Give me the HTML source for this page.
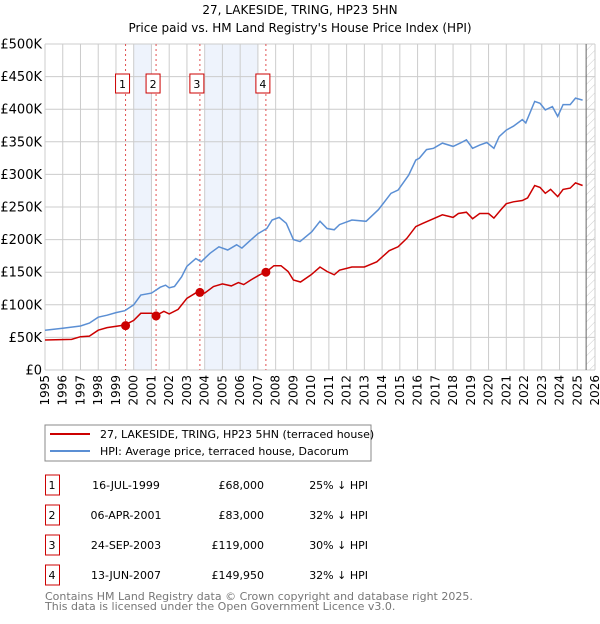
<!DOCTYPE html>
<html><head><meta charset="utf-8"><style>
body{margin:0;background:#fff;width:600px;height:620px;overflow:hidden;font-family:"DejaVu Sans","Liberation Sans",sans-serif}
svg text{font-family:"DejaVu Sans","Liberation Sans",sans-serif}
</style></head><body>
<svg id="chart" width="600" height="620" xmlns="http://www.w3.org/2000/svg">
<defs><pattern id="hatch" width="6" height="6" patternUnits="userSpaceOnUse" patternTransform="rotate(45)"><line x1="0" y1="0" x2="0" y2="6" stroke="#ccc" stroke-width="1"/></pattern></defs>
<text x="300" y="14" text-anchor="middle" font-size="12">27, LAKESIDE, TRING, HP23 5HN</text>
<text x="300" y="32" text-anchor="middle" font-size="12">Price paid vs. HM Land Registry's House Price Index (HPI)</text>
<g id="plot"></g>
<rect x="45" y="425" width="326" height="36" fill="#fff" stroke="#888"/>
<line x1="50" y1="434" x2="90" y2="434" stroke="#cc0000" stroke-width="2"/>
<text x="100" y="438" font-size="11">27, LAKESIDE, TRING, HP23 5HN (terraced house)</text>
<line x1="50" y1="451" x2="90" y2="451" stroke="#5b8fd4" stroke-width="2"/>
<text x="100" y="455" font-size="11">HPI: Average price, terraced house, Dacorum</text>
<g id="table" font-size="11"></g>
<text x="45" y="600" font-size="11" fill="#777">Contains HM Land Registry data © Crown copyright and database right 2025.</text>
<text x="45" y="610" font-size="11" fill="#777">This data is licensed under the Open Government Licence v3.0.</text>
</svg>
<script>
const hpiYears=[1995,1996,1997,1997.5,1998,1998.5,1999,1999.5,2000,2000.4,2001,2001.5,2001.8,2002,2002.3,2002.7,2003,2003.5,2003.8,2004.3,2004.8,2005.3,2005.8,2006.1,2006.5,2007,2007.5,2007.8,2008.2,2008.6,2009,2009.37,2010.03,2010.5,2010.9,2011.3,2011.6,2012.3,2013.1,2013.8,2014.5,2014.9,2015.5,2015.9,2016.1,2016.5,2016.9,2017.4,2018,2018.4,2018.75,2019.1,2019.5,2019.9,2020.3,2020.6,2021,2021.4,2021.9,2022.1,2022.6,2022.9,2023.2,2023.6,2023.9,2024.2,2024.6,2024.9,2025.3];
const hpiValues=[61,64,67.5,72,81,84,88,91,100,115,118,127,130,126,128,143,159,171,166,179,189,184,192,187,197,209,217,230,234,225,200,197,212,228,217,215,223,230,228,246,271,276,299,322,325,338,340,348,343,348,353,340,345,349,340,358,368,374,384,379,412,409,399,404,389,407,407,417,414];
const ppYears=[1995,1996.5,1997,1997.5,1998,1998.5,1999.5,2000,2000.4,2001,2001.3,2001.7,2002,2002.5,2003,2003.6,2004,2004.5,2005,2005.5,2005.9,2006.2,2006.6,2007.1,2007.5,2007.9,2008.3,2008.7,2009,2009.4,2010,2010.5,2010.9,2011.3,2011.6,2012.3,2013,2013.7,2014.4,2014.9,2015.4,2015.9,2016.3,2016.8,2017.4,2018,2018.3,2018.75,2019.1,2019.5,2020,2020.3,2020.7,2021,2021.4,2021.9,2022.2,2022.6,2022.9,2023.2,2023.5,2023.9,2024.2,2024.6,2024.9,2025.3];
const ppValues=[46,47,51,52,61,65,69,76,87,87,84,90,86,93,110,120,118,128,132,129,134,131,138,146,151,160,160,151,138,135,146,158,151,146,153,158,158,166,183,189,202,220,225,231,238,234,240,242,232,240,240,233,246,255,258,260,264,283,280,271,277,266,277,279,287,283];
const saleYears=[1999.54,2001.26,2003.73,2007.45];
const salePrices=[68,83,119,149.95];
const saleLabels=["1","2","3","4"];
const saleDates=["16-JUL-1999","06-APR-2001","24-SEP-2003","13-JUN-2007"];
const salePriceText=["£68,000","£83,000","£119,000","£149,950"];
const saleHpiText=["25% ↓ HPI","32% ↓ HPI","30% ↓ HPI","32% ↓ HPI"];
const shadeRanges=[[2000,2001],[2004,2007]];
const yTicks=[0,50,100,150,200,250,300,350,400,450,500];
const yTickLabels=["£0","£50K","£100K","£150K","£200K","£250K","£300K","£350K","£400K","£450K","£500K"];
const xTicks=[1995,1996,1997,1998,1999,2000,2001,2002,2003,2004,2005,2006,2007,2008,2009,2010,2011,2012,2013,2014,2015,2016,2017,2018,2019,2020,2021,2022,2023,2024,2025,2026];
const forecastStart=2025.5;

const NS="http://www.w3.org/2000/svg";
const X0=45,X1=595,Y0=370,Y1=44;
const xs=y=>X0+(y-1995)/(2026-1995)*(X1-X0);
const ys=v=>Y0-v/500*(Y0-Y1);
const plot=document.getElementById('plot');
function mk(tag,attrs,parent){const e=document.createElementNS(NS,tag);for(const k in attrs)e.setAttribute(k,attrs[k]);(parent||plot).appendChild(e);return e;}
shadeRanges.forEach(r=>{const e=mk('rect',{x:xs(r[0]),y:Y1,width:xs(r[1])-xs(r[0]),height:Y0-Y1,fill:'#eef3fc'});

});
const hr=mk('rect',{x:xs(forecastStart),y:Y1,width:X1-xs(forecastStart),height:Y0-Y1,fill:'url(#hatch)'});


yTicks.forEach((t,i)=>{const l=mk('line',{x1:X0,x2:X1,y1:ys(t),y2:ys(t),stroke:'#ccc'});


const tx=mk('text',{x:X0-3,y:ys(t)+4.5,'text-anchor':'end','font-size':'13'});tx.textContent=yTickLabels[i];

});
xTicks.forEach(t=>{const l=mk('line',{x1:xs(t),x2:xs(t),y1:Y1,y2:Y0,stroke:'#ccc'});


const tx=mk('text',{x:0,y:0,'text-anchor':'end','font-size':'12',transform:`translate(${xs(t)+4},${Y0+5}) rotate(-90)`});tx.textContent=t;

});
const fl=mk('line',{x1:xs(forecastStart),x2:xs(forecastStart),y1:Y1,y2:Y0,stroke:'#666'});


saleYears.forEach((y,i)=>{const l=mk('line',{x1:xs(y),x2:xs(y),y1:Y1,y2:Y0,stroke:'#e05050','stroke-dasharray':'2,3'});

});
function path(xa,va,color,name){const d=xa.map((x,i)=>(i?'L':'M')+xs(x).toFixed(1)+','+ys(va[i]).toFixed(1)).join('');
const p=mk('path',{d:d,fill:'none',stroke:color,'stroke-width':1.5});

}
path(hpiYears,hpiValues,'#5b8fd4','hpi-line');
path(ppYears,ppValues,'#cc0000','price-paid-line');
saleYears.forEach((y,i)=>{const c=mk('circle',{cx:xs(y),cy:ys(salePrices[i]),r:4.5,fill:'#cc0000'});


const bx=xs(y)-3;
const r=mk('rect',{x:bx-7,y:74,width:14,height:19,fill:'#fff',stroke:'#cc0000'});


const t=mk('text',{x:bx,y:88,'text-anchor':'middle','font-size':'11'});t.textContent=saleLabels[i];

});
const tb=document.getElementById('table');
saleLabels.forEach((s,i)=>{const cy=483+i*30;
const r=mk('rect',{x:45.5,y:cy-8,width:14,height:20,fill:'#fff',stroke:'#cc0000'},tb);


const cols=[[52,'middle',s,'table-row-number'],[126,'middle',saleDates[i],'table-row-date'],[264,'end',salePriceText[i],'table-row-price'],[368,'end',saleHpiText[i],'table-row-hpi-diff']];
cols.forEach(c=>{const t=mk('text',{x:c[0],y:cy+6,'text-anchor':c[1]},tb);t.textContent=c[2];

});});
</script>
</body></html>
